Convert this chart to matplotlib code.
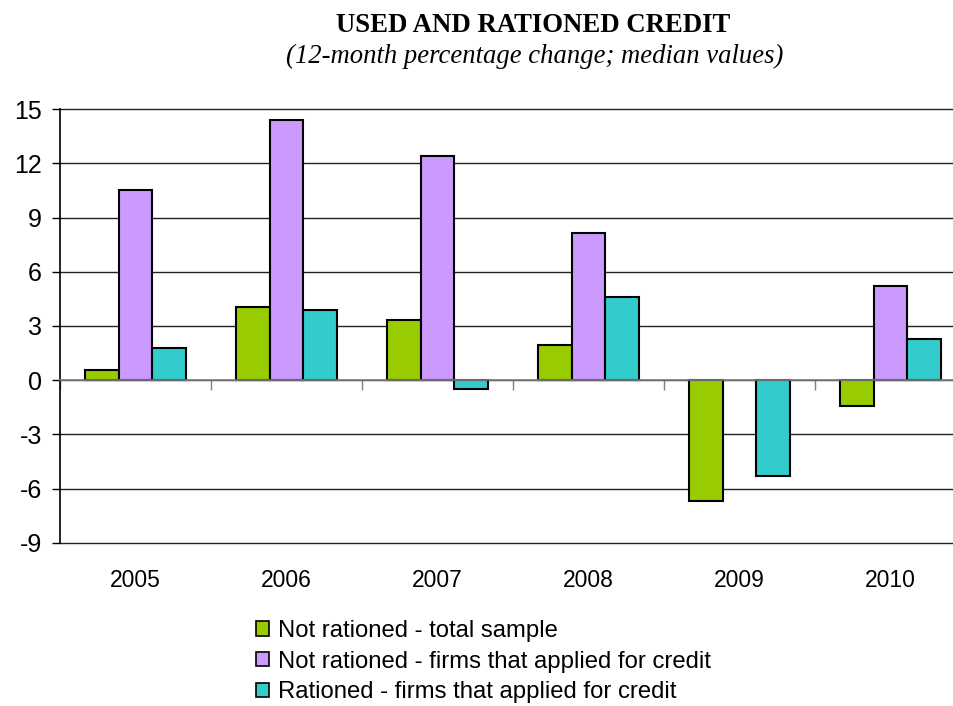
import matplotlib
matplotlib.use("Agg")
import matplotlib.pyplot as plt
import numpy as np
from matplotlib.patches import Patch
from matplotlib.transforms import blended_transform_factory

plt.rcParams["font.family"] = ["Liberation Sans", "DejaVu Sans"]

years = ["2005", "2006", "2007", "2008", "2009", "2010"]
not_rationed_total = [0.55, 4.05, 3.35, 1.95, -6.7, -1.45]
not_rationed_applied = [10.55, 14.4, 12.4, 8.15, 0.0, 5.2]
rationed_applied = [1.8, 3.9, -0.5, 4.6, -5.3, 2.3]

series = [
    ("Not rationed - total sample", not_rationed_total, "#99CC00"),
    ("Not rationed - firms that applied for credit", not_rationed_applied, "#CC99FF"),
    ("Rationed - firms that applied for credit", rationed_applied, "#33CCCC"),
]
yticks = [-9, -6, -3, 0, 3, 6, 9, 12, 15]

fig = plt.figure(figsize=(9.54, 7.06), dpi=100)
ax = fig.add_axes([60 / 954, 163.3 / 706, 906 / 954, 433.4 / 706])

x = np.arange(len(years))
width = 0.223
for i, (label, vals, color) in enumerate(series):
    bars = ax.bar(x + (i - 1) * width, vals, width, color=color, edgecolor="black",
                  linewidth=1.5, zorder=3)
    for b, v in zip(bars, vals):
        if v == 0:
            b.set_linewidth(0)

ax.set_xlim(-0.5, len(years) - 0.5)
ax.set_ylim(-9, 15)
ax.set_yticks(yticks)
ax.set_yticklabels([str(v) for v in yticks], fontsize=18)
ax.yaxis.grid(True, color="#222222", linewidth=1.0, zorder=0)
for gl in ax.get_ygridlines():
    gl.set_clip_on(False)
ax.tick_params(axis="y", direction="out", length=6, width=1, pad=7, color="black")

# category axis sits at zero, labels stay at the bottom
for s in ["top", "right"]:
    ax.spines[s].set_visible(False)
ax.spines["left"].set_color("black")
ax.spines["left"].set_linewidth(1.2)
ax.spines["bottom"].set_position(("data", 0))
ax.spines["bottom"].set_color("#808080")
ax.spines["bottom"].set_linewidth(1.2)
ax.spines["bottom"].set_zorder(4)
ax.set_xticks(np.arange(len(years) + 1) - 0.5)
ax.tick_params(axis="x", direction="out", length=7, width=1, color="#808080",
               labelbottom=False)

trans = blended_transform_factory(ax.transData, ax.transAxes)
for xi, yr in zip(x, years):
    ax.annotate(yr, xy=(xi, 0), xycoords=trans, xytext=(0, -27),
                textcoords="offset points", ha="center", va="center", fontsize=16.5)

fig.text(533 / 954, 1 - 25 / 706, "USED AND RATIONED CREDIT", ha="center",
         va="center", fontsize=19.3, fontweight="bold", family="Liberation Serif")
fig.text(535 / 954, 1 - 56 / 706, "(12-month percentage change; median values)",
         ha="center", va="center", fontsize=19.2, style="italic",
         family="Liberation Serif")

handles = [Patch(facecolor=c, edgecolor="black", linewidth=1.2, label=l)
           for l, _, c in series]
fig.legend(handles=handles, loc="upper left", bbox_to_anchor=(256 / 954, 1 - 620 / 706),
           frameon=False, fontsize=17.2, handlelength=0.55, handleheight=0.55,
           handletextpad=0.35, labelspacing=0.36, borderaxespad=0, borderpad=0)

fig.savefig("out.png", dpi=100)
